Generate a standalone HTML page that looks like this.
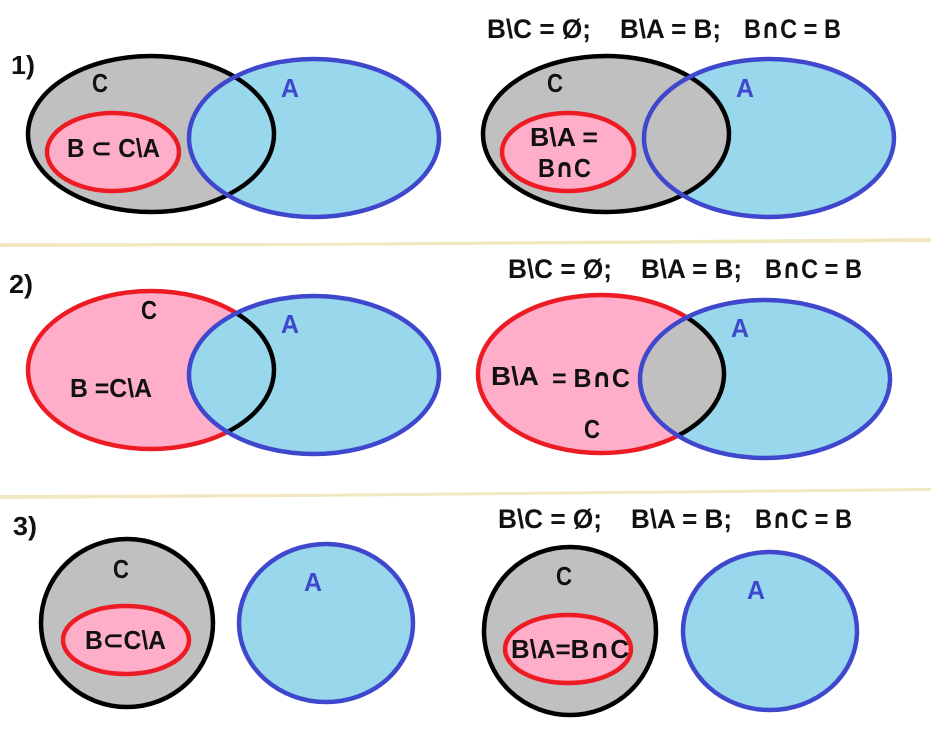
<!DOCTYPE html>
<html><head><meta charset="utf-8"><style>
html,body{margin:0;padding:0;background:#fff;width:931px;height:749px;overflow:hidden}
svg{display:block}
text{font-family:"Liberation Sans",sans-serif;font-weight:bold;font-size:26px;fill:#111}
.b{fill:#3f48cc}
.s{font-size:27px}
.e{stroke-width:4.5}
.n{font-family:"DejaVu Sans",sans-serif;font-weight:bold}
</style></head><body>
<svg width="931" height="749" viewBox="0 0 931 749" xmlns="http://www.w3.org/2000/svg">
<defs>
<clipPath id="a1"><ellipse cx="314" cy="138" rx="125" ry="79"/></clipPath>
<clipPath id="a3"><ellipse cx="314" cy="375" rx="125" ry="79"/></clipPath>
<clipPath id="a4"><ellipse cx="765" cy="379" rx="125" ry="79"/></clipPath>
</defs>
<rect width="931" height="749" fill="#fff"/>
<polygon points="0,243 300,243 931,238 931,242 300,246 0,247" fill="#f1e8bf"/>
<polygon points="0,495 300,494 931,488 931,491 300,497 0,499" fill="#f1e8bf"/>

<!-- Row 1 left -->
<g class="e">
<ellipse cx="151" cy="134" rx="123" ry="78" fill="#c0c0c0" stroke="#000"/>
<ellipse cx="113" cy="152" rx="66" ry="39" fill="#ffaec9" stroke="#ed1c24"/>
<ellipse cx="314" cy="138" rx="125" ry="79" fill="#99d8ec" stroke="none"/>
<ellipse cx="151" cy="134" rx="123" ry="78" fill="none" stroke="#000" clip-path="url(#a1)"/>
<ellipse cx="314" cy="138" rx="125" ry="79" fill="none" stroke="#3f48cc"/>
</g>
<!-- Row 1 right -->
<g class="e">
<ellipse cx="769" cy="138" rx="125" ry="79" fill="#99d8ec" stroke="none"/>
<ellipse cx="606" cy="134" rx="123" ry="78" fill="#c0c0c0" stroke="#000"/>
<ellipse cx="568" cy="152" rx="66" ry="39" fill="#ffaec9" stroke="#ed1c24"/>
<ellipse cx="769" cy="138" rx="125" ry="79" fill="none" stroke="#3f48cc"/>
</g>
<!-- Row 2 left -->
<g class="e">
<ellipse cx="151" cy="370" rx="123" ry="79" fill="#ffaec9" stroke="#ed1c24"/>
<ellipse cx="314" cy="375" rx="125" ry="79" fill="#99d8ec" stroke="none"/>
<ellipse cx="151" cy="370" rx="123" ry="79" fill="none" stroke="#000" clip-path="url(#a3)"/>
<ellipse cx="314" cy="375" rx="125" ry="79" fill="none" stroke="#3f48cc"/>
</g>
<!-- Row 2 right -->
<g class="e">
<ellipse cx="601" cy="374" rx="123" ry="79" fill="#ffaec9" stroke="#ed1c24"/>
<ellipse cx="765" cy="379" rx="125" ry="79" fill="#99d8ec" stroke="none"/>
<ellipse cx="601" cy="374" rx="123" ry="79" fill="#c0c0c0" stroke="#000" clip-path="url(#a4)"/>
<ellipse cx="765" cy="379" rx="125" ry="79" fill="none" stroke="#3f48cc"/>
</g>
<!-- Row 3 left -->
<g class="e">
<ellipse cx="127" cy="623" rx="86" ry="84" fill="#c0c0c0" stroke="#000"/>
<ellipse cx="126" cy="640" rx="63" ry="34" fill="#ffaec9" stroke="#ed1c24"/>
<ellipse cx="326" cy="623" rx="87" ry="79" fill="#99d8ec" stroke="#3f48cc"/>
</g>
<!-- Row 3 right -->
<g class="e">
<ellipse cx="570" cy="631" rx="86" ry="84" fill="#c0c0c0" stroke="#000"/>
<ellipse cx="568" cy="649" rx="63" ry="34" fill="#ffaec9" stroke="#ed1c24"/>
<ellipse cx="770" cy="631" rx="87" ry="79" fill="#99d8ec" stroke="#3f48cc"/>
</g>

<!-- Row numbers -->
<text x="11" y="74" textLength="24" lengthAdjust="spacingAndGlyphs">1)</text>
<text x="9" y="293" textLength="24" lengthAdjust="spacingAndGlyphs">2)</text>
<text x="13" y="535" textLength="24" lengthAdjust="spacingAndGlyphs">3)</text>

<!-- Headers -->
<text class="s" x="487" y="38" textLength="104" lengthAdjust="spacingAndGlyphs">B\C = Ø;</text>
<text class="s" x="620" y="38" textLength="101" lengthAdjust="spacingAndGlyphs">B\A = B;</text>
<text class="s" x="744" y="38" textLength="97" lengthAdjust="spacingAndGlyphs">B<tspan class="n">∩</tspan>C = B</text>
<text class="s" x="508" y="278" textLength="104" lengthAdjust="spacingAndGlyphs">B\C = Ø;</text>
<text class="s" x="641" y="278" textLength="101" lengthAdjust="spacingAndGlyphs">B\A = B;</text>
<text class="s" x="765" y="278" textLength="97" lengthAdjust="spacingAndGlyphs">B<tspan class="n">∩</tspan>C = B</text>
<text class="s" x="498" y="528" textLength="104" lengthAdjust="spacingAndGlyphs">B\C = Ø;</text>
<text class="s" x="631" y="528" textLength="101" lengthAdjust="spacingAndGlyphs">B\A = B;</text>
<text class="s" x="755" y="528" textLength="97" lengthAdjust="spacingAndGlyphs">B<tspan class="n">∩</tspan>C = B</text>

<!-- Row 1 labels -->
<text x="92" y="92" textLength="16" lengthAdjust="spacingAndGlyphs">C</text>
<text class="b" x="281" y="97" textLength="18" lengthAdjust="spacingAndGlyphs">A</text>
<text x="67" y="157" textLength="93" lengthAdjust="spacingAndGlyphs">B ⊂ C\A</text>
<text x="547" y="92" textLength="16" lengthAdjust="spacingAndGlyphs">C</text>
<text class="b" x="736" y="97" textLength="18" lengthAdjust="spacingAndGlyphs">A</text>
<text x="530" y="146" textLength="68" lengthAdjust="spacingAndGlyphs">B\A =</text>
<text x="538" y="177" textLength="53" lengthAdjust="spacingAndGlyphs">B<tspan class="n">∩</tspan>C</text>

<!-- Row 2 labels -->
<text x="141" y="319" textLength="16" lengthAdjust="spacingAndGlyphs">C</text>
<text class="b" x="281" y="333" textLength="18" lengthAdjust="spacingAndGlyphs">A</text>
<text x="70" y="397" textLength="82" lengthAdjust="spacingAndGlyphs">B =C\A</text>
<text class="b" x="731" y="337" textLength="18" lengthAdjust="spacingAndGlyphs">A</text>
<text x="491" y="385" textLength="48" lengthAdjust="spacingAndGlyphs">B\A</text>
<text x="552" y="387" textLength="78" lengthAdjust="spacingAndGlyphs">= B<tspan class="n">∩</tspan>C</text>
<text x="584" y="438" textLength="16" lengthAdjust="spacingAndGlyphs">C</text>

<!-- Row 3 labels -->
<text x="113" y="578" textLength="16" lengthAdjust="spacingAndGlyphs">C</text>
<text class="b" x="304" y="591" textLength="18" lengthAdjust="spacingAndGlyphs">A</text>
<text x="85" y="649" textLength="81" lengthAdjust="spacingAndGlyphs">B⊂C\A</text>
<text x="556" y="585" textLength="16" lengthAdjust="spacingAndGlyphs">C</text>
<text class="b" x="747" y="599" textLength="18" lengthAdjust="spacingAndGlyphs">A</text>
<text x="511" y="658" textLength="118" lengthAdjust="spacingAndGlyphs">B\A=B<tspan class="n">∩</tspan>C</text>
</svg>
</body></html>
